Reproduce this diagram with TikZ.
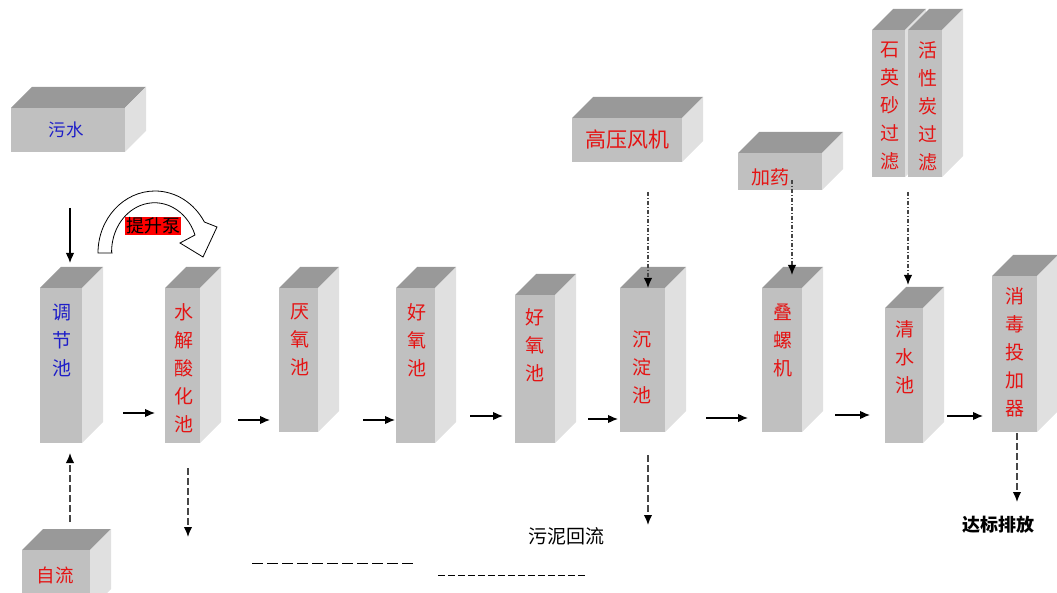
\documentclass[tikz,border=0pt]{standalone}
\usepackage{fontspec}
\setmainfont{Noto Sans CJK SC}
\usetikzlibrary{fit,arrows.meta}
\definecolor{frontgray}{RGB}{192,192,192}
\definecolor{topgray}{RGB}{153,153,153}
\definecolor{sidegray}{RGB}{224,224,224}
\definecolor{txtred}{RGB}{228,20,20}
\definecolor{txtblue}{RGB}{30,30,200}
\definecolor{dashgray}{RGB}{70,70,70}
\begin{document}
\begin{tikzpicture}[x=1pt,y=-1pt,
  front/.style={fill=frontgray,inner sep=0pt,outer sep=0pt},
  vtext/.style={align=center,font=\fontsize{19}{28}\selectfont},
  flow/.style={-{Latex[length=10pt,width=8.5pt,color=black]},line width=1.2pt},
  dashline/.style={draw=dashgray,line width=1.4pt,dash pattern=on 7pt off 3pt},
  dotline/.style={draw=dashgray,line width=1.4pt,dash pattern=on 4pt off 2pt on 1pt off 2pt}]
\useasboundingbox (0,0) rectangle (1057,593);
\clip (0,0) rectangle (1057,593);
% boxes: name/left/top/right/bottom
\foreach \n/\l/\t/\r/\b in {wushui/11/108/125/152,zl/22/550/90/610,
  tjc/40/288/82/443,sjc/165/288/200/443,yyc/279/288/318/432,
  hyc/396/288/435/443,hyd/515/295/555/443,cdc/620/288/665/432,
  dlj/762/288/802/432,qsc/885/308/923/443,xdq/992/276/1037/432,
  syg/872/30/905/177,hxt/908/30/942/177,gyfj/572/118/682/162,
  jy/738/153/822/190}{
  \fill[topgray](\l,\t)--++(21,-21)--++({\r-\l},0)--(\r,\t)--cycle;
  \fill[sidegray](\r,\t)--++(21,-21)--++(0,{\b-\t})--(\r,\b)--cycle;
  \node[front,fit={(\l,\t)(\r,\b)}](\n){};
}
% labels
\node[txtblue,font=\fontsize{17.5}{20}\selectfont](wushuit)at(66,130){污水};
\node[txtred,font=\fontsize{18.5}{20}\selectfont](zlt)at(55,575){自流};
\node[txtred,font=\fontsize{21}{24}\selectfont](gyfjt)at(627,140){高压风机};
\node[txtred,font=\fontsize{19}{20}\selectfont](jyt)at(770,177){加药};
\node[vtext,txtblue](tjct)at(62,340){调\\节\\池};
\node[vtext,txtred](sjct)at(184,368){水\\解\\酸\\化\\池};
\node[vtext,txtred](yyct)at(300,340){厌\\氧\\池};
\node[vtext,txtred](hyct)at(417,340){好\\氧\\池};
\node[vtext,txtred](hydt)at(535,345){好\\氧\\池};
\node[vtext,txtred](cdct)at(642,367){沉\\淀\\池};
\node[vtext,txtred](dljt)at(783,340){叠\\螺\\机};
\node[vtext,txtred](qsct)at(905,357){清\\水\\池};
\node[vtext,txtred](xdqt)at(1015,352){消\\毒\\投\\加\\器};
\node[vtext,txtred](sygt)at(890,106){石\\英\\砂\\过\\滤};
\node[vtext,txtred](hxtt)at(928,106){活\\性\\炭\\过\\滤};
% lift pump
\draw[line width=0.8pt,fill=white](112,253)--(98,253)
  arc[start angle=180,end angle=330,x radius=57,y radius=62]
  --(217,227)--(203,257)--(180,243)--(195,235)
  arc[start angle=340,end angle=180,x radius=43,y radius=49]--cycle;
\node[fill=red,inner sep=1pt,font=\fontsize{18}{20}\selectfont](pump)at(153,226){提升泵};
% main flow
\foreach \a/\c/\y/\s/\e in {tjc/sjc/413/41/10,sjc/yyc/420/38/9,
  yyc/hyc/420/45/1,hyc/hyd/416/35/12,hyd/cdc/419/33/2,
  cdc/dlj/418/41/14,dlj/qsc/415/33/15,qsc/xdq/416/24/9}
  \draw[flow,shorten <=\s,shorten >=\e](\a.east|-0,\y)--(\c.west|-0,\y);
\draw[flow,shorten <=56,shorten >=25](wushui.south-|70,0)--(tjc.north-|70,0);
\draw[flow,dashline,shorten <=28,shorten >=10](zl.north-|70,0)--(tjc.south-|70,0);
% air, dosing, filter feeds
\draw[flow,dotline,shorten <=30](gyfj.south-|648,0)--(cdc.north-|648,0);
\draw[flow,dotline,shorten <=-10,shorten >=13](jy.south-|792,0)--(dlj.north-|792,0);
\draw[flow,dotline,shorten <=15,shorten >=23](syg.south-|908,0)--(qsc.north-|908,0);
% outlets
\coordinate(sjcout)at(188,537);
\coordinate(cdcout)at(648,525);
\coordinate(xdqout)at(1017,502);
\draw[flow,dashline,shorten <=25](sjc.south-|sjcout)--(sjcout);
\draw[flow,dashline,shorten <=23](cdc.south-|cdcout)--(cdcout);
\draw[flow,dashline,shorten <=1](xdq.south-|xdqout)--(xdqout);
\node[font=\fontsize{19}{20}\selectfont](wnhl)at(566,536){污泥回流};
\node[font=\fontsize{18}{20}\selectfont\bfseries](dbpf)at(998,525){达标排放};
\draw[line width=1pt,dash pattern=on 11pt off 4pt](252,563)--(413,563);
\draw[line width=1pt,dash pattern=on 7pt off 3pt](438,575)--(588,575);
\end{tikzpicture}
\end{document}
